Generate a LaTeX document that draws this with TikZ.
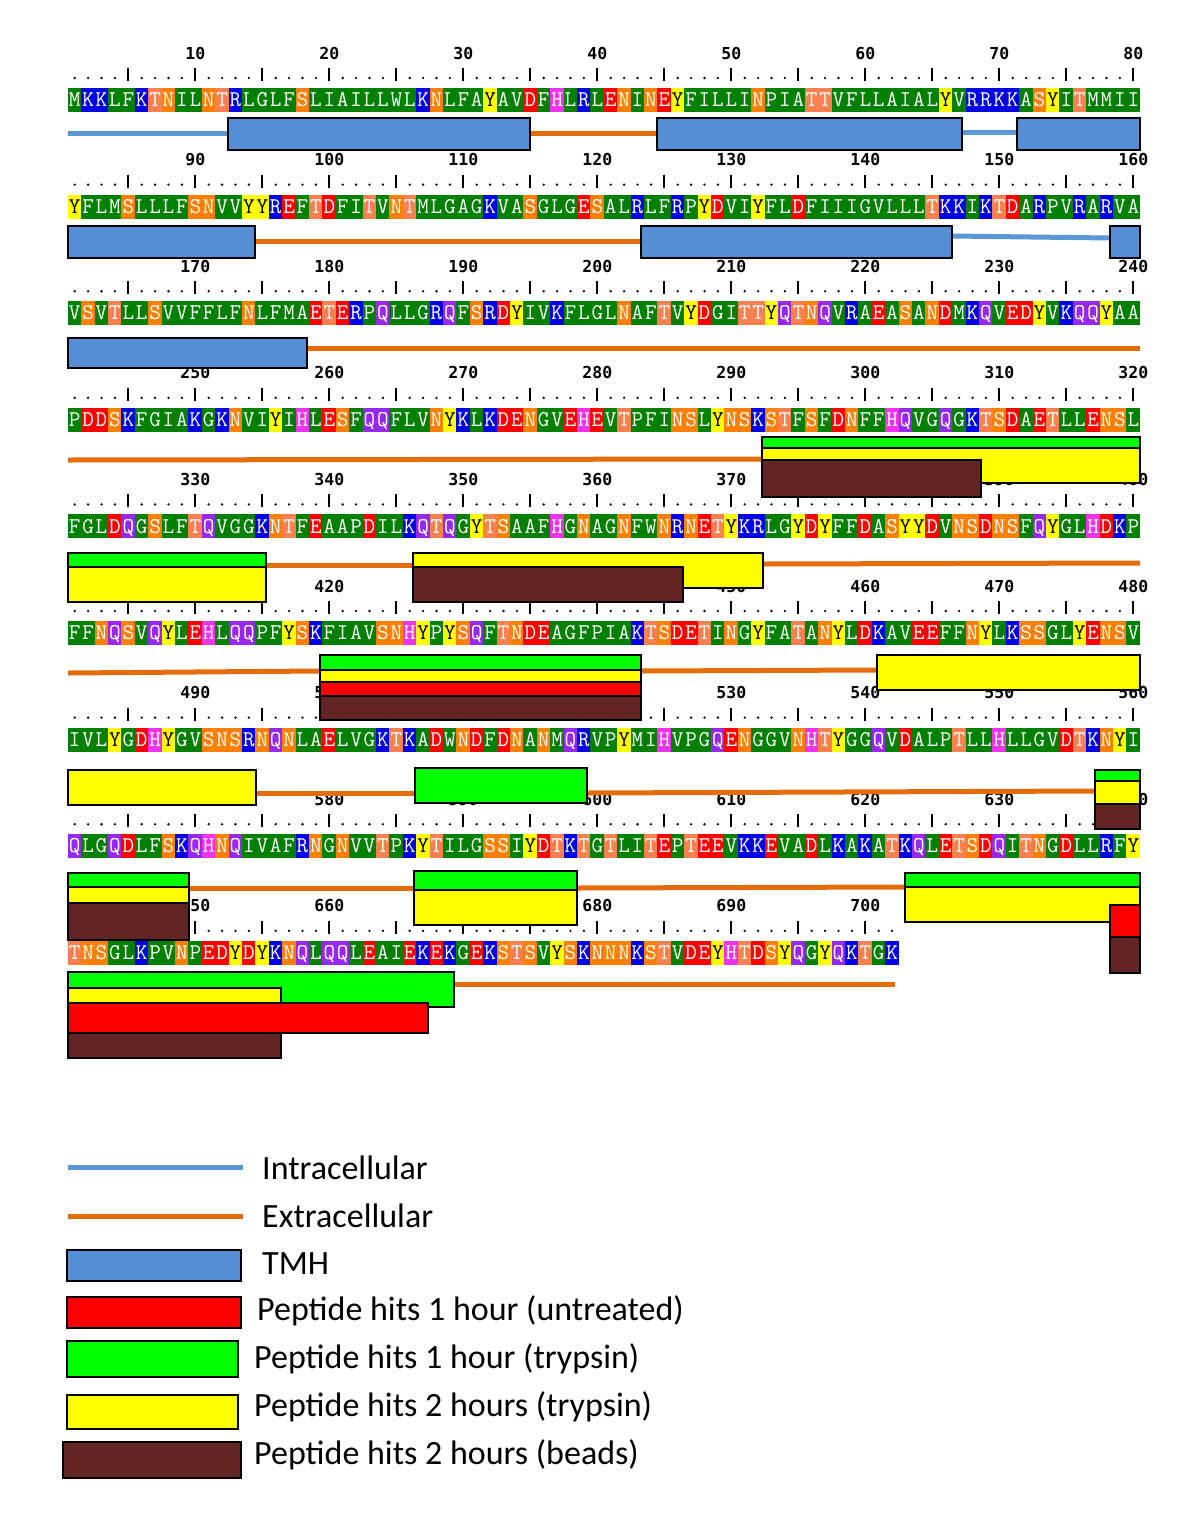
\documentclass[tikz,border=0pt]{standalone}
\usepackage{fontspec}
\newfontfamily\legfont{Carlito}
\newfontfamily\numfont{DejaVu Sans Mono}
\definecolor{cG}{RGB}{0,128,0}
\definecolor{cB}{RGB}{0,0,230}
\definecolor{cR}{RGB}{255,0,0}
\definecolor{cO}{RGB}{255,128,0}
\definecolor{cT}{RGB}{250,128,80}
\definecolor{cY}{RGB}{255,255,0}
\definecolor{cH}{RGB}{238,50,238}
\definecolor{cQ}{RGB}{150,40,240}
\definecolor{ctmh}{RGB}{85,142,213}
\definecolor{cintra}{RGB}{91,150,215}
\definecolor{cextra}{RGB}{228,108,10}
\definecolor{cpgreen}{RGB}{0,255,0}
\definecolor{cpyellow}{RGB}{255,255,0}
\definecolor{cpred}{RGB}{255,0,0}
\definecolor{cpbrown}{RGB}{99,37,35}
\newcommand\seqfont{\ttfamily\fontsize{22.5}{22.5}\selectfont}
\tikzset{
  cell/.style={minimum width=13.7pt, minimum height=24pt, inner sep=0pt, text height=13.5pt, text depth=0pt, font=\seqfont, text=white},
  aaA/.style={fill=cG}, aaV/.style={fill=cG}, aaL/.style={fill=cG}, aaI/.style={fill=cG},
  aaM/.style={fill=cG}, aaF/.style={fill=cG}, aaW/.style={fill=cG}, aaP/.style={fill=cG},
  aaG/.style={fill=cG}, aaC/.style={fill=cY,text=black},
  aaK/.style={fill=cB}, aaR/.style={fill=cB},
  aaD/.style={fill=cR}, aaE/.style={fill=cR},
  aaN/.style={fill=cO}, aaS/.style={fill=cO}, aaT/.style={fill=cT},
  aaY/.style={fill=cY,text=black}, aaH/.style={fill=cH}, aaQ/.style={fill=cQ},
  numlab/.style={font=\numfont\bfseries\fontsize{16.5}{16.5}\selectfont, inner sep=0pt},
  rulebar/.style={line width=1.8pt},
  intra/.style={cintra, line width=5pt},
  extra/.style={cextra, line width=5pt},
  box/.style={draw=black, line width=2.4pt},
  tmh/.style={box, fill=ctmh},
  pgreen/.style={box, fill=cpgreen},
  pyellow/.style={box, fill=cpyellow},
  pred/.style={box, fill=cpred},
  pbrown/.style={box, fill=cpbrown},
  leg/.style={anchor=west, inner sep=0pt, font=\legfont\fontsize{34}{36}\selectfont}
}
\newcount\rescount
\newcommand\drawseq[3]{\global\rescount=0 \def\rowid{#1}\def\rowy{#2}\seqloop#3\relax}
\def\seqloop#1{\ifx#1\relax\else\drawres{#1}\expandafter\seqloop\fi}
\def\drawres#1{\global\advance\rescount by 1
  \pgfmathsetmacro\resx{68+(\the\rescount-0.5)*13.4}%
  \edef\resname{s\rowid-\the\rescount}%
  \node[cell, aa#1] (\resname) at (\resx,\rowy) {#1};}
\newcommand\drawruler[4]{%
  \foreach \k in {1,...,#3}{
    \pgfmathsetmacro\rx{68+(\k-0.5)*13.4}
    \pgfmathtruncatemacro\rmod{mod(\k,5)}
    \ifnum\rmod=0 \draw[rulebar] (\rx,#2-32) -- (\rx,#2-19);
    \else \fill (\rx,#2-22) circle (1.3pt);\fi
  }
  \foreach \k in {10,20,...,#3}{
    \pgfmathsetmacro\rx{68+(\k-0.5)*13.4}
    \pgfmathtruncatemacro\lab{#4+\k}
    \node[numlab] (n#1-\k) at (\rx,#2-47) {\lab};
  }
}
\begin{document}
\begin{tikzpicture}[x=1pt,y=-1pt]
\useasboundingbox[fill=white] (0,0) rectangle (1200,1529);
% rulers and numbers
\drawruler{1}{100}{80}{0}
\drawruler{2}{206.6}{80}{80}
\drawruler{3}{313.2}{80}{160}
\drawruler{4}{419.8}{80}{240}
\drawruler{5}{526.4}{80}{320}
\drawruler{6}{633}{80}{400}
\drawruler{7}{739.6}{80}{480}
\drawruler{8}{846.2}{80}{560}
\drawruler{9}{952.8}{62}{640}
% sequences
\drawseq{1}{100}{MKKLFKTNILNTRLGLFSLIAILLWLKNLFAYAVDFHLRLENINEYFILLINPIATTVFLLAIALYVRRKKASYITMMII}
\drawseq{2}{206.6}{YFLMSLLLFSNVVYYREFTDFITVNTMLGAGKVASGLGESALRLFRPYDVIYFLDFIIIGVLLLTKKIKTDARPVRARVA}
\drawseq{3}{313.2}{VSVTLLSVVFFLFNLFMAETERPQLLGRQFSRDYIVKFLGLNAFTVYDGITTYQTNQVRAEASANDMKQVEDYVKQQYAA}
\drawseq{4}{419.8}{PDDSKFGIAKGKNVIYIHLESFQQFLVNYKLKDENGVEHEVTPFINSLYNSKSTFSFDNFFHQVGQGKTSDAETLLENSL}
\drawseq{5}{526.4}{FGLDQGSLFTQVGGKNTFEAAPDILKQTQGYTSAAFHGNAGNFWNRNETYKRLGYDYFFDASYYDVNSDNSFQYGLHDKP}
\drawseq{6}{633}{FFNQSVQYLEHLQQPFYSKFIAVSNHYPYSQFTNDEAGFPIAKTSDETINGYFATANYLDKAVEEFFNYLKSSGLYENSV}
\drawseq{7}{739.6}{IVLYGDHYGVSNSRNQNLAELVGKTKADWNDFDNANMQRVPYMIHVPGQENGGVNHTYGGQVDALPTLLHLLGVDTKNYI}
\drawseq{8}{846.2}{QLGQDLFSKQHNQIVAFRNGNVVTPKYTILGSSIYDTKTGTLITEPTEEVKKEVADLKAKATKQLETSDQITNGDLLRFY}
\drawseq{9}{952.8}{TNSGLKPVNPEDYDYKNQLQQLEAIEKEKGEKSTSVYSKNNNKSTVDEYHTDSYQGYQKTGK}
% row 1
\draw[intra] (68,133) -- (228,133);
\draw[extra] (530,133) -- (657,133);
\draw[intra] (962,132) -- (1017,132);
\draw[tmh] (228,118) rectangle (530,150);
\draw[tmh] (657,118) rectangle (962,150);
\draw[tmh] (1017,118) rectangle (1140,150);
% row 2
\draw[extra] (255,241) -- (641,241);
\draw[intra] (952,236) -- (1110,238);
\draw[tmh] (68,226) rectangle (255,258);
\draw[tmh] (641,226) rectangle (952,258);
\draw[tmh] (1110,226) rectangle (1140,258);
% row 3
\draw[extra] (307,348) -- (1140,348);
\draw[tmh] (68,338) rectangle (307,368);
% row 4
\draw[extra] (68,460) -- (762,459);
\draw[pgreen] (762,437) rectangle (1140,472);
\draw[pyellow] (762,448) rectangle (1140,483);
\draw[pbrown] (762,460) rectangle (981,497);
% row 5
\draw[extra] (266,565) -- (413,565);
\draw[extra] (763,564) -- (1140,563);
\draw[pgreen] (68,553) rectangle (266,588);
\draw[pyellow] (68,567) rectangle (266,602);
\draw[pyellow] (413,553) rectangle (763,588);
\draw[pbrown] (413,567) rectangle (683,602);
% row 6
\draw[extra] (68,673) -- (320,671);
\draw[extra] (641,671) -- (877,670);
\draw[pgreen] (320,655) rectangle (641,690);
\draw[pyellow] (320,670) rectangle (641,705);
\draw[pred] (320,682) rectangle (641,717);
\draw[pbrown] (320,696) rectangle (641,720);
\draw[pyellow] (877,655) rectangle (1140,690);
% row 7
\draw[extra] (256,793) -- (415,793);
\draw[extra] (587,793) -- (1095,791);
\draw[pyellow] (68,770) rectangle (256,805);
\draw[pgreen] (415,768) rectangle (587,803);
\draw[pgreen] (1095,770) rectangle (1140,805);
\draw[pyellow] (1095,781) rectangle (1140,816);
\draw[pbrown] (1095,804) rectangle (1140,829);
% row 8
\draw[extra] (189,888) -- (414,888);
\draw[extra] (577,888) -- (905,887);
\draw[pgreen] (68,873) rectangle (189,908);
\draw[pyellow] (68,887) rectangle (189,922);
\draw[pbrown] (68,903) rectangle (189,940);
\draw[pgreen] (414,871) rectangle (577,906);
\draw[pyellow] (414,890) rectangle (577,925);
\draw[pgreen] (905,873) rectangle (1140,908);
\draw[pyellow] (905,887) rectangle (1140,922);
\draw[pred] (1110,905) rectangle (1140,937);
\draw[pbrown] (1110,937) rectangle (1140,973);
% row 9
\draw[extra] (454,984) -- (895,984);
\draw[pgreen] (68,972) rectangle (454,1007);
\draw[pyellow] (68,988) rectangle (281,1020);
\draw[pred] (68,1003) rectangle (428,1033);
\draw[pbrown] (68,1033) rectangle (281,1058);
% legend
\draw[intra] (68,1167) -- (243,1167);
\node[leg] (l1) at (262,1168) {Intracellular};
\draw[extra] (68,1216) -- (243,1216);
\node[leg] (l2) at (262,1216) {Extracellular};
\draw[tmh] (67,1250) rectangle (241,1281);
\node[leg] (l3) at (262,1264) {TMH};
\draw[pred] (67,1297) rectangle (241,1328);
\node[leg] (l4) at (257,1311) {Peptide hits 1 hour (untreated)};
\draw[pgreen] (67,1341) rectangle (238,1377);
\node[leg] (l5) at (254,1359) {Peptide hits 1 hour (trypsin)};
\draw[pyellow] (67,1395) rectangle (238,1429);
\node[leg] (l6) at (254,1407) {Peptide hits 2 hours (trypsin)};
\draw[pbrown] (63,1442) rectangle (241,1478);
\node[leg] (l7) at (254,1455) {Peptide hits 2 hours (beads)};
\end{tikzpicture}
\end{document}
